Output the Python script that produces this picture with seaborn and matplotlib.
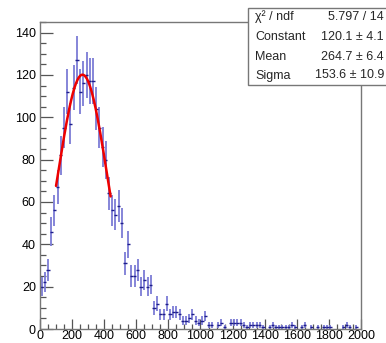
import matplotlib
matplotlib.use("Agg")
import matplotlib.pyplot as plt
import numpy as np
import pandas as pd
import seaborn as sns
from matplotlib.ticker import MultipleLocator

# bin contents, 100 bins of width 20 from 0 to 2000
counts = [20, 22, 28, 46, 56, 67, 82, 95, 112, 97,
          114, 127, 112, 116, 120, 117, 117, 104, 95, 86,
          80, 64, 56, 54, 58, 50, 31, 40, 25, 25,
          28, 20, 23, 20, 21, 10, 12, 7, 7, 12,
          7, 8, 8, 7, 4, 4, 5, 7, 4, 3,
          4, 6, 2, 2, 0, 2, 3, 1, 0, 3,
          3, 3, 3, 2, 1, 2, 2, 2, 2, 1,
          0, 1, 2, 1, 1, 1, 1, 1, 2, 1,
          0, 1, 2, 0, 1, 0, 1, 0, 1, 1,
          1, 0, 0, 0, 1, 2, 1, 0, 1, 0]
bin_width = 20
fit_range = (100, 440)
fit_const, fit_mean, fit_sigma = 120.1, 264.7, 153.6

stat_labels = ["χ² / ndf", "Constant", "Mean", "Sigma"]
stat_values = ["5.797 / 14", "120.1 ± 4.1", "264.7 ± 6.4", "153.6 ± 10.9"]

df = pd.DataFrame({"count": counts})
df["x"] = np.arange(len(df)) * bin_width + bin_width / 2
df["err"] = np.sqrt(df["count"])
df = df[df["count"] > 0]

xf = np.linspace(fit_range[0], fit_range[1], 200)
fit = pd.DataFrame({"x": xf,
                    "y": fit_const * np.exp(-0.5 * ((xf - fit_mean) / fit_sigma) ** 2)})

sns.set_style("ticks")
plt.rcParams["font.family"] = ["Liberation Sans", "DejaVu Sans"]

fig = plt.figure(figsize=(3.86, 3.43), dpi=100)
ax = fig.add_axes([0.1036, 0.0408, 0.8316, 0.8951])

# vertical error bars (lighter) and bin-width bars (darker)
ax.errorbar(df["x"], df["count"], yerr=df["err"], fmt="none",
            ecolor="#7c7cd6", elinewidth=1.3, capsize=0)
ax.errorbar(df["x"], df["count"], xerr=bin_width / 2, fmt="none",
            ecolor="#1e1e8c", elinewidth=1.0, capsize=0)

sns.lineplot(data=fit, x="x", y="y", color="#ee0000", linewidth=1.8, ax=ax)

ax.set_xlim(0, 2000)
ax.set_ylim(0, 145)
ax.set_xlabel("")
ax.set_ylabel("")
ax.xaxis.set_major_locator(MultipleLocator(200))
ax.xaxis.set_minor_locator(MultipleLocator(50))
ax.yaxis.set_major_locator(MultipleLocator(20))
ax.yaxis.set_minor_locator(MultipleLocator(5))
ax.tick_params(axis="both", which="both", direction="in", colors="#555555",
               labelcolor="black", labelsize=9, width=0.9, top=False, right=False)
ax.tick_params(axis="y", which="major", length=9, pad=3)
ax.tick_params(axis="y", which="minor", length=4.5)
ax.tick_params(axis="x", which="major", length=7, pad=1)
ax.tick_params(axis="x", which="minor", length=3.5)
for s in ax.spines.values():
    s.set_color("#777777")
    s.set_linewidth(1.0)

# stat box
bx0, by0 = 248 / 386, 1 - 85 / 343
box = plt.Rectangle((bx0, by0), 1.2 - bx0, (85 - 8) / 343, transform=fig.transFigure,
                    facecolor="white", edgecolor="#777777", linewidth=1.0, zorder=5)
fig.add_artist(box)
row_y = [17, 37, 56.5, 75.5]
for lab, val, ry in zip(stat_labels, stat_values, row_y):
    fig.text(255 / 386, 1 - ry / 343, lab, ha="left", va="center", fontsize=9, zorder=6)
    fig.text(384 / 386, 1 - ry / 343, val, ha="right", va="center", fontsize=9, zorder=6)

fig.savefig("out.png", dpi=100)
